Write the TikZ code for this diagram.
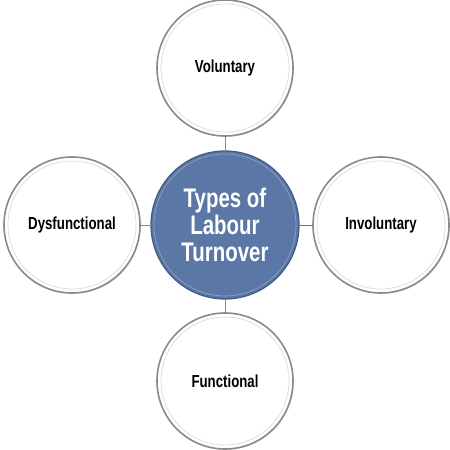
\documentclass[tikz,border=0pt]{standalone}
\usepackage{fontspec}
\newfontfamily\condfont[FakeStretch=0.76]{Liberation Sans}
\usetikzlibrary{positioning, shadows}
\definecolor{hubblue}{HTML}{5B77A6}
\definecolor{hubedge}{HTML}{3E5A88}
\definecolor{ringgray}{HTML}{8A8A8A}
\definecolor{linkgray}{HTML}{7F8C99}
\definecolor{linkpurple}{HTML}{8C7BB5}

\tikzset{
  typebox/.style={circle, minimum size=136bp, inner sep=0pt, fill=white, draw=ringgray, line width=1.6bp,
    drop shadow={shadow xshift=1bp, shadow yshift=-1bp, opacity=0.15},
    font=\condfont\bfseries\fontsize{17.5}{20}\selectfont},
  hubbox/.style={circle, minimum size=148bp, inner sep=0pt, fill=hubblue, draw=hubedge, line width=1.2bp,
    text=white, align=center, font=\condfont\bfseries\fontsize{27}{27}\selectfont},
  link/.style={draw=linkgray, line width=0.6bp}
}

\begin{document}
\begin{tikzpicture}[x=1bp, y=1bp]
  \useasboundingbox (0,0) rectangle (450,450);
  % Centro
  \node[hubbox] (hub) at (225,225) {Types of\\Labour\\Turnover};
  \draw[white!35!hubblue, line width=0.6bp] (hub.center) circle (71);
  % Tipos
  \node[typebox] (vol) at (225,382) {Voluntary};
  \node[typebox] (invol) at (381,225) {Involuntary};
  \node[typebox] (func) at (225,69) {Functional};
  \node[typebox] (dysf) at (72,225) {Dysfunctional};
  % Anillos interiores
  \foreach \n in {vol, invol, func, dysf}
    \draw[gray!25, line width=0.8bp] (\n.center) circle (64);
  % Uniones
  \draw[link] (vol) -- (hub);
  \draw[link] (func) -- (hub);
  \draw[link, draw=linkpurple] (dysf) -- (hub);
  \draw[link, draw=linkgray!80!blue] (invol) -- (hub);
\end{tikzpicture}
\end{document}
